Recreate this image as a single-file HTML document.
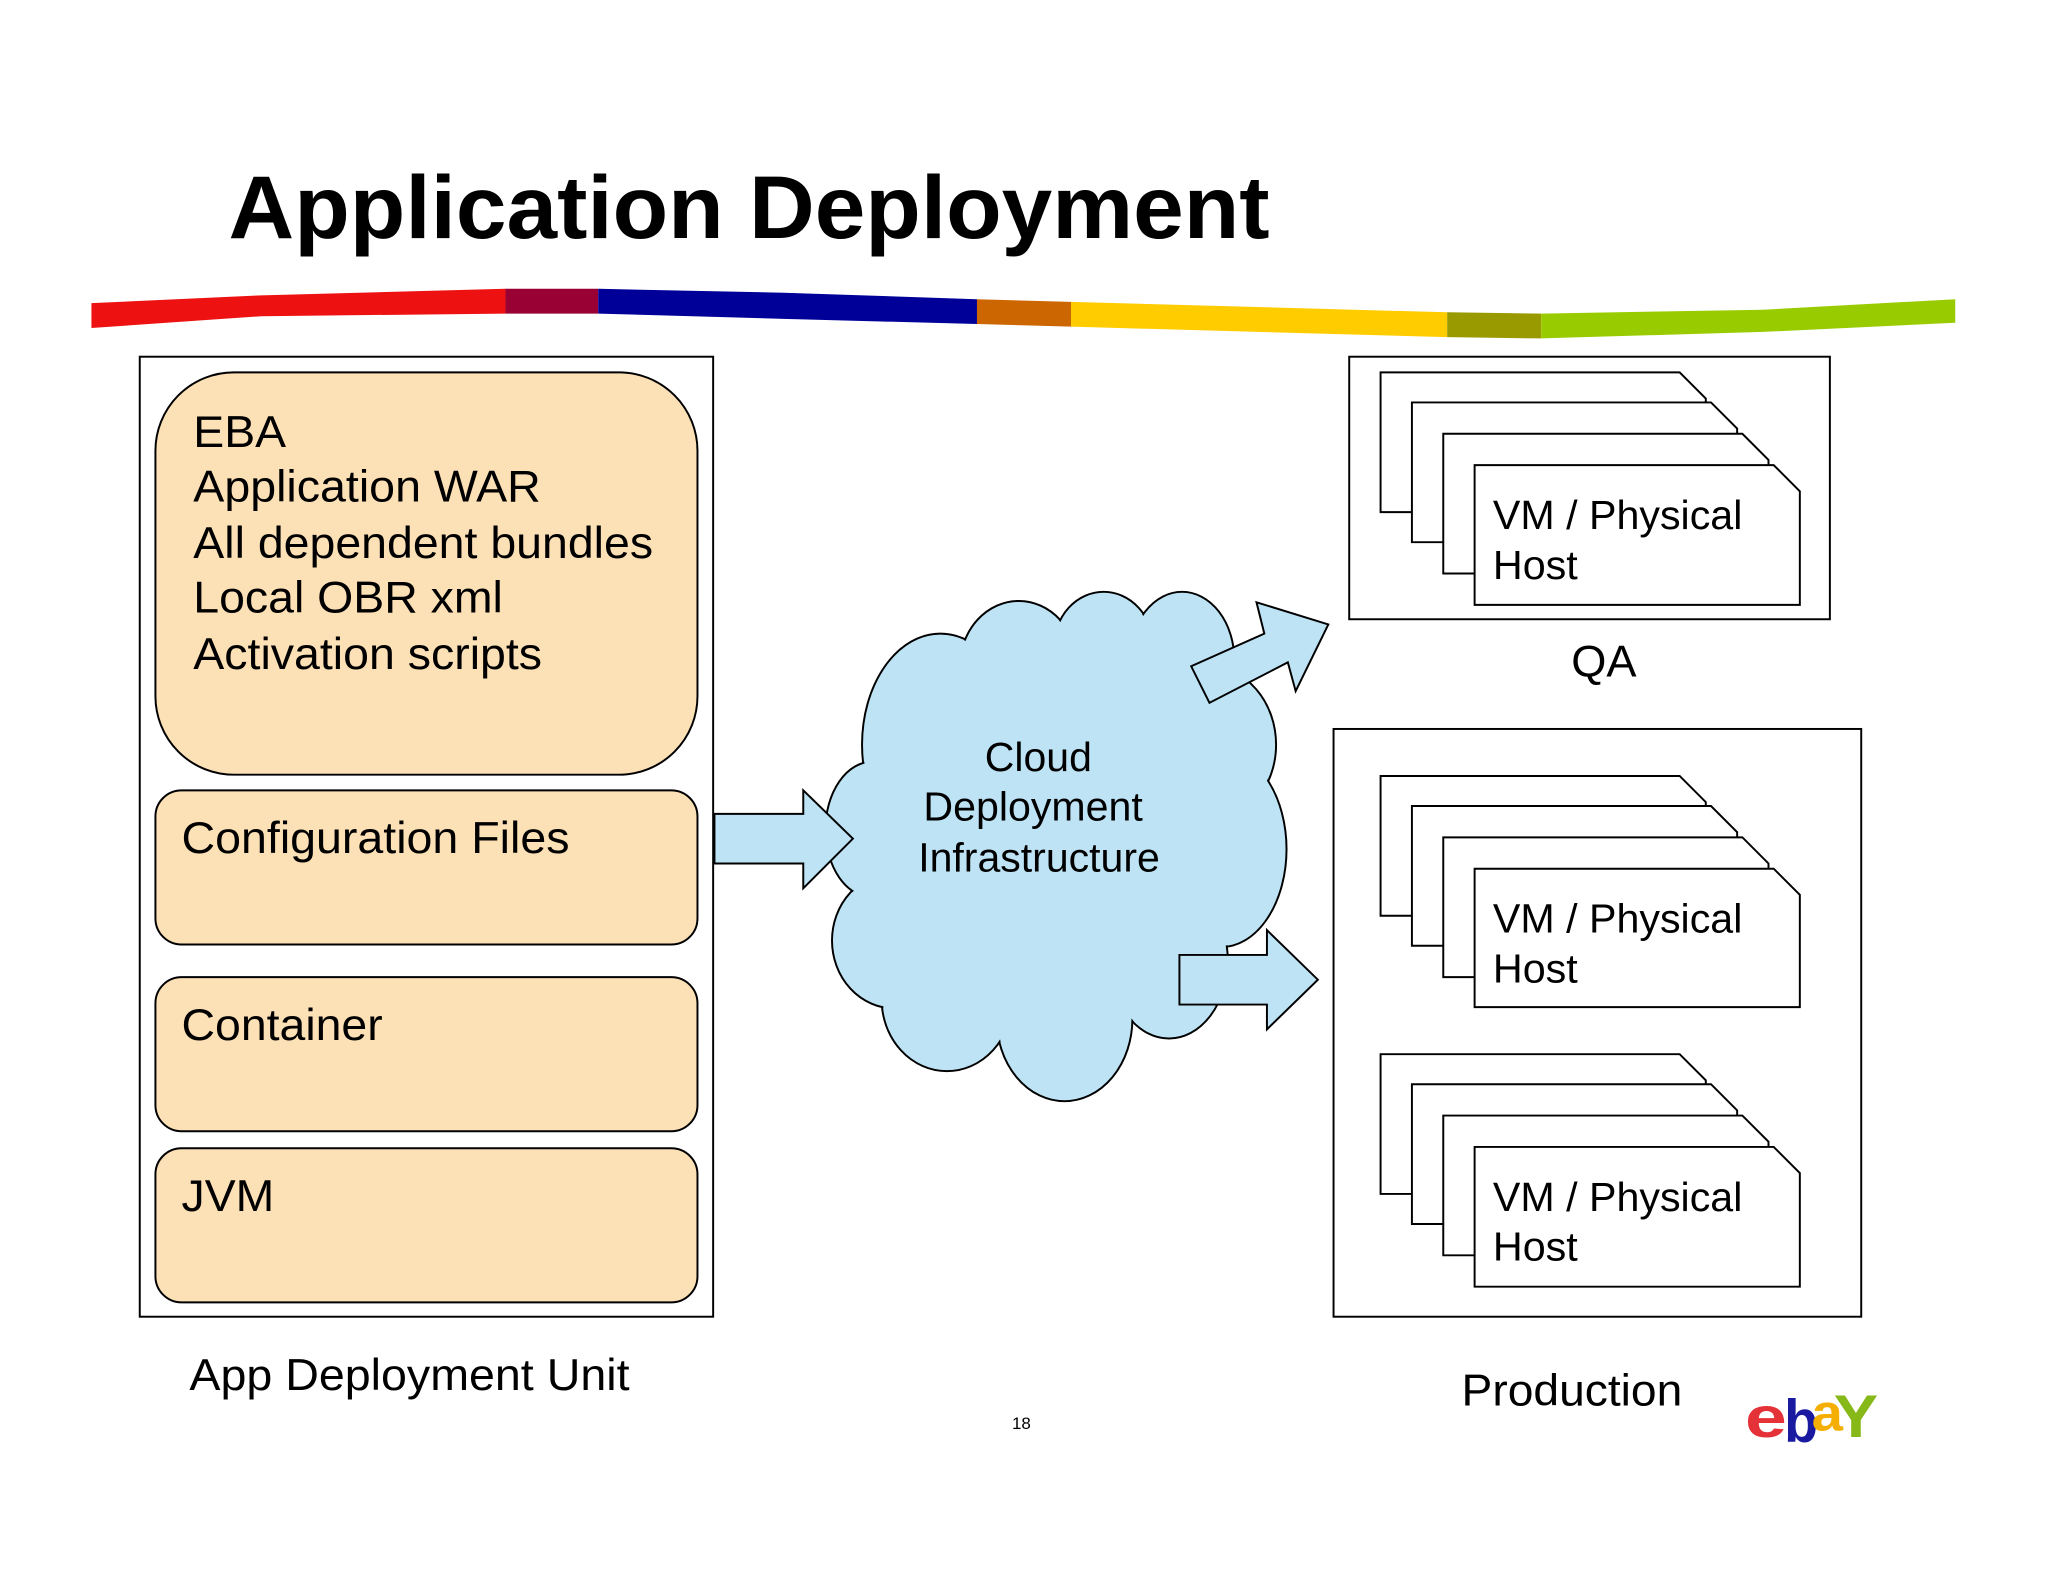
<!DOCTYPE html>
<html><head><meta charset="utf-8"><style>
html,body{margin:0;padding:0;background:#fff;}
svg{display:block;}
text{font-family:"Liberation Sans",sans-serif;fill:#000;}
</style></head><body>
<svg width="2048" height="1582" viewBox="0 0 1568 1211" xmlns="http://www.w3.org/2000/svg">
<rect width="1568" height="1211" fill="#fff"/>
<text x="175" y="182" font-size="68" font-weight="bold" textLength="797" lengthAdjust="spacingAndGlyphs">Application Deployment</text>
<polygon points="70,232 200,226 387,221 387,240 200,242 70,251" fill="#ee1111"/>
<polygon points="387,221 458,221 458,240 387,240" fill="#990033"/>
<polygon points="458,221 600,224 748,229 748,248 600,244 458,240" fill="#000099"/>
<polygon points="748,229 820,231 820,250 748,248" fill="#cc6600"/>
<polygon points="820,231 1000,236 1108,239 1108,258 1000,255 820,250" fill="#ffcc00"/>
<polygon points="1108,239 1180,240 1180,259 1108,258" fill="#999900"/>
<polygon points="1180,240 1350,237 1497,229 1497,247 1350,254 1180,259" fill="#99cc00"/>
<rect x="107" y="273" width="439" height="735" fill="#fff" stroke="#000" stroke-width="1.5"/>
<rect x="119" y="285" width="415" height="308" rx="60" fill="#fce0b6" stroke="#000" stroke-width="1.5"/>
<rect x="119" y="605" width="415" height="118" rx="20" fill="#fce0b6" stroke="#000" stroke-width="1.5"/>
<rect x="119" y="748" width="415" height="118" rx="20" fill="#fce0b6" stroke="#000" stroke-width="1.5"/>
<rect x="119" y="879" width="415" height="118" rx="20" fill="#fce0b6" stroke="#000" stroke-width="1.5"/>
<g font-size="34" lengthAdjust="spacingAndGlyphs">
<text x="148" y="342" textLength="71" lengthAdjust="spacingAndGlyphs">EBA</text>
<text x="148" y="384" textLength="266" lengthAdjust="spacingAndGlyphs">Application WAR</text>
<text x="148" y="427" textLength="352" lengthAdjust="spacingAndGlyphs">All dependent bundles</text>
<text x="148" y="469" textLength="237" lengthAdjust="spacingAndGlyphs">Local OBR xml</text>
<text x="148" y="512" textLength="267" lengthAdjust="spacingAndGlyphs">Activation scripts</text>
<text x="139" y="653" textLength="297" lengthAdjust="spacingAndGlyphs">Configuration Files</text>
<text x="139" y="796" textLength="154" lengthAdjust="spacingAndGlyphs">Container</text>
<text x="139" y="927" textLength="71" lengthAdjust="spacingAndGlyphs">JVM</text>
<text x="145" y="1064" textLength="337" lengthAdjust="spacingAndGlyphs">App Deployment Unit</text>
</g>
<g stroke="#000" stroke-width="1.5" fill="#bde3f5">
<ellipse cx="720" cy="570" rx="60" ry="85"/>
<ellipse cx="780" cy="510" rx="45" ry="50"/>
<ellipse cx="845" cy="495" rx="38" ry="42"/>
<ellipse cx="905" cy="505" rx="40" ry="52"/>
<ellipse cx="925" cy="570" rx="52" ry="60"/>
<ellipse cx="935" cy="650" rx="50" ry="75"/>
<ellipse cx="895" cy="735" rx="45" ry="60"/>
<ellipse cx="815" cy="780" rx="52" ry="63"/>
<ellipse cx="725" cy="765" rx="50" ry="55"/>
<ellipse cx="685" cy="720" rx="48" ry="52"/>
<ellipse cx="668" cy="635" rx="36" ry="52"/>
</g>
<g fill="#bde3f5">
<ellipse cx="720" cy="570" rx="59" ry="84"/>
<ellipse cx="780" cy="510" rx="44" ry="49"/>
<ellipse cx="845" cy="495" rx="37" ry="41"/>
<ellipse cx="905" cy="505" rx="39" ry="51"/>
<ellipse cx="925" cy="570" rx="51" ry="59"/>
<ellipse cx="935" cy="650" rx="49" ry="74"/>
<ellipse cx="895" cy="735" rx="44" ry="59"/>
<ellipse cx="815" cy="780" rx="51" ry="62"/>
<ellipse cx="725" cy="765" rx="49" ry="54"/>
<ellipse cx="685" cy="720" rx="47" ry="51"/>
<ellipse cx="668" cy="635" rx="35" ry="51"/>
<ellipse cx="810" cy="640" rx="150" ry="150"/>
</g>
<g font-size="31">
<text x="754" y="590" textLength="82" lengthAdjust="spacingAndGlyphs">Cloud</text>
<text x="707" y="628" textLength="168" lengthAdjust="spacingAndGlyphs">Deployment</text>
<text x="703" y="667" textLength="185" lengthAdjust="spacingAndGlyphs">Infrastructure</text>
</g>
<polygon points="547,623 615,623 615,605 653,642 615,680 615,661 547,661" fill="#bde3f5" stroke="#000" stroke-width="1.5"/>
<polygon points="912,510 968,485 962,461 1017,478 992,529 986,507 926,538" fill="#bde3f5" stroke="#000" stroke-width="1.5"/>
<polygon points="903,731 970,731 970,712 1009,750 970,788 970,769 903,769" fill="#bde3f5" stroke="#000" stroke-width="1.5"/>
<rect x="1033" y="273" width="368" height="201" fill="#fff" stroke="#000" stroke-width="1.5"/>
<g fill="#fff" stroke="#000" stroke-width="1.5">
<polygon points="1057,285 1286,285 1306,305 1306,392 1057,392"/>
<polygon points="1081,308 1310,308 1330,328 1330,415 1081,415"/>
<polygon points="1105,332 1334,332 1354,352 1354,439 1105,439"/>
<polygon points="1129,356 1358,356 1378,376 1378,463 1129,463"/>
</g>
<g font-size="31">
<text x="1143" y="405" textLength="191" lengthAdjust="spacingAndGlyphs">VM / Physical</text>
<text x="1143" y="443" textLength="65" lengthAdjust="spacingAndGlyphs">Host</text>
</g>
<text x="1203" y="518" font-size="34" textLength="50" lengthAdjust="spacingAndGlyphs">QA</text>
<rect x="1021" y="558" width="404" height="450" fill="#fff" stroke="#000" stroke-width="1.5"/>
<g fill="#fff" stroke="#000" stroke-width="1.5">
<polygon points="1057,594 1286,594 1306,614 1306,701 1057,701"/>
<polygon points="1081,617 1310,617 1330,637 1330,724 1081,724"/>
<polygon points="1105,641 1334,641 1354,661 1354,748 1105,748"/>
<polygon points="1129,665 1358,665 1378,685 1378,771 1129,771"/>
<polygon points="1057,807 1286,807 1306,827 1306,914 1057,914"/>
<polygon points="1081,830 1310,830 1330,850 1330,937 1081,937"/>
<polygon points="1105,854 1334,854 1354,874 1354,961 1105,961"/>
<polygon points="1129,878 1358,878 1378,898 1378,985 1129,985"/>
</g>
<g font-size="31">
<text x="1143" y="714" textLength="191" lengthAdjust="spacingAndGlyphs">VM / Physical</text>
<text x="1143" y="752" textLength="65" lengthAdjust="spacingAndGlyphs">Host</text>
<text x="1143" y="927" textLength="191" lengthAdjust="spacingAndGlyphs">VM / Physical</text>
<text x="1143" y="965" textLength="65" lengthAdjust="spacingAndGlyphs">Host</text>
</g>
<text x="1119" y="1076" font-size="34" textLength="169" lengthAdjust="spacingAndGlyphs">Production</text>
<text x="782" y="1094" font-size="13" text-anchor="middle">18</text>
<g font-weight="bold">
<text x="1336" y="1100" font-size="44" style="fill:#e53238" textLength="32" lengthAdjust="spacingAndGlyphs">e</text>
<text x="1366" y="1104" font-size="46" style="fill:#1a1aa0" textLength="26" lengthAdjust="spacingAndGlyphs">b</text>
<text x="1387" y="1095" font-size="40" style="fill:#f5af02" textLength="24" lengthAdjust="spacingAndGlyphs">a</text>
<text x="1404" y="1100" font-size="46" style="fill:#86b817" textLength="34" lengthAdjust="spacingAndGlyphs">Y</text>
</g>
</svg>
</body></html>
